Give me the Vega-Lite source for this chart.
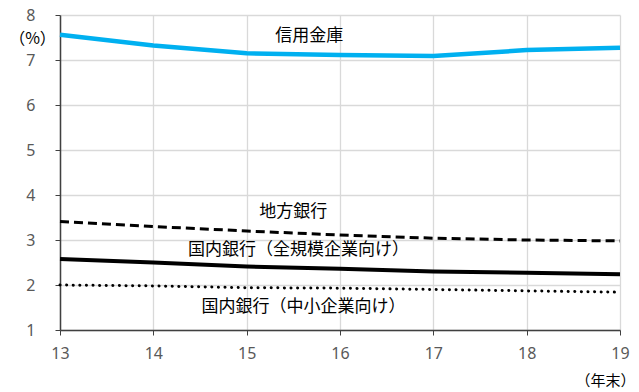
{
  "$schema": "https://vega.github.io/schema/vega-lite/v6.json",
  "autosize": "none",
  "width": 560,
  "height": 315,
  "padding": {"left": 60, "top": 15, "right": 19, "bottom": 62},
  "background": "white",
  "config": {
    "view": {"stroke": null},
    "font": "Noto Sans CJK JP"
  },
  "datasets": {
    "series": [
      {"year": 13, "value": 7.56, "series": "信用金庫"},
      {"year": 14, "value": 7.32, "series": "信用金庫"},
      {"year": 15, "value": 7.15, "series": "信用金庫"},
      {"year": 16, "value": 7.11, "series": "信用金庫"},
      {"year": 17, "value": 7.09, "series": "信用金庫"},
      {"year": 18, "value": 7.22, "series": "信用金庫"},
      {"year": 19, "value": 7.27, "series": "信用金庫"},
      {"year": 13, "value": 3.41, "series": "地方銀行"},
      {"year": 14, "value": 3.30, "series": "地方銀行"},
      {"year": 15, "value": 3.20, "series": "地方銀行"},
      {"year": 16, "value": 3.11, "series": "地方銀行"},
      {"year": 17, "value": 3.04, "series": "地方銀行"},
      {"year": 18, "value": 3.00, "series": "地方銀行"},
      {"year": 19, "value": 2.98, "series": "地方銀行"},
      {"year": 13, "value": 2.58, "series": "国内銀行（全規模企業向け）"},
      {"year": 14, "value": 2.50, "series": "国内銀行（全規模企業向け）"},
      {"year": 15, "value": 2.41, "series": "国内銀行（全規模企業向け）"},
      {"year": 16, "value": 2.36, "series": "国内銀行（全規模企業向け）"},
      {"year": 17, "value": 2.30, "series": "国内銀行（全規模企業向け）"},
      {"year": 18, "value": 2.27, "series": "国内銀行（全規模企業向け）"},
      {"year": 19, "value": 2.24, "series": "国内銀行（全規模企業向け）"},
      {"year": 13, "value": 2.00, "series": "国内銀行（中小企業向け）"},
      {"year": 14, "value": 1.98, "series": "国内銀行（中小企業向け）"},
      {"year": 15, "value": 1.94, "series": "国内銀行（中小企業向け）"},
      {"year": 16, "value": 1.93, "series": "国内銀行（中小企業向け）"},
      {"year": 17, "value": 1.90, "series": "国内銀行（中小企業向け）"},
      {"year": 18, "value": 1.87, "series": "国内銀行（中小企業向け）"},
      {"year": 19, "value": 1.84, "series": "国内銀行（中小企業向け）"}
    ],
    "labels": [
      {"year": 15.67, "value": 7.53, "label": "信用金庫"},
      {"year": 15.50, "value": 3.62, "label": "地方銀行"},
      {"year": 15.555, "value": 2.77, "label": "国内銀行（全規模企業向け）"},
      {"year": 15.61, "value": 1.51, "label": "国内銀行（中小企業向け）"}
    ]
  },
  "layer": [
    {
      "data": {"name": "series"},
      "transform": [{"filter": "datum.series === '信用金庫'"}],
      "mark": {"type": "line", "color": "#00b0f0", "strokeWidth": 4.5},
      "encoding": {
        "x": {
          "field": "year", "type": "quantitative",
          "scale": {"domain": [13, 19], "nice": false, "zero": false},
          "axis": {
            "values": [13, 14, 15, 16, 17, 18, 19],
            "format": "d",
            "title": "（年末）", "titleAngle": 0, "titleFontWeight": "normal",
            "titleFontSize": 15, "titleColor": "#000000", "titleX": 575, "titleY": 50,
            "titleAlign": "right", "titleBaseline": "middle",
            "labelFontSize": 16, "labelColor": "#595959", "labelPadding": 10,
            "domainColor": "#404040", "domainWidth": 1.5,
            "tickColor": "#404040", "tickSize": 5,
            "gridColor": "#d9d9d9", "gridWidth": 1.3,
            "labelFont": "Noto Sans", "labelFlush": false
          }
        },
        "y": {
          "field": "value", "type": "quantitative",
          "scale": {"domain": [1, 8], "nice": false, "zero": false},
          "axis": {
            "values": [1, 2, 3, 4, 5, 6, 7, 8],
            "format": "d",
            "title": "（%）", "titleAngle": 0, "titleFontWeight": "normal",
            "titleFontSize": 16, "titleColor": "#000000", "titleX": -28, "titleY": 23,
            "titleAlign": "center", "titleBaseline": "middle",
            "labelFontSize": 16, "labelColor": "#595959", "labelPadding": 20,
            "domainColor": "#404040", "domainWidth": 1.5,
            "tickColor": "#404040", "tickSize": 5,
            "gridColor": "#d9d9d9", "gridWidth": 1.3,
            "labelFont": "Noto Sans"
          }
        }
      }
    },
    {
      "data": {"name": "series"},
      "transform": [{"filter": "datum.series === '地方銀行'"}],
      "mark": {"type": "line", "color": "#000000", "strokeWidth": 3, "strokeDash": [9, 5]},
      "encoding": {
        "x": {"field": "year", "type": "quantitative"},
        "y": {"field": "value", "type": "quantitative"}
      }
    },
    {
      "data": {"name": "series"},
      "transform": [{"filter": "datum.series === '国内銀行（全規模企業向け）'"}],
      "mark": {"type": "line", "color": "#000000", "strokeWidth": 4},
      "encoding": {
        "x": {"field": "year", "type": "quantitative"},
        "y": {"field": "value", "type": "quantitative"}
      }
    },
    {
      "data": {"name": "series"},
      "transform": [{"filter": "datum.series === '国内銀行（中小企業向け）'"}],
      "mark": {"type": "line", "color": "#000000", "strokeWidth": 3, "strokeDash": [0.1, 6.5], "strokeCap": "round"},
      "encoding": {
        "x": {"field": "year", "type": "quantitative"},
        "y": {"field": "value", "type": "quantitative"}
      }
    },
    {
      "data": {"name": "labels"},
      "mark": {"type": "text", "fontSize": 17, "color": "#000000", "align": "center", "baseline": "middle", "font": "Noto Sans CJK JP"},
      "encoding": {
        "x": {"field": "year", "type": "quantitative"},
        "y": {"field": "value", "type": "quantitative"},
        "text": {"field": "label"}
      }
    }
  ]
}
